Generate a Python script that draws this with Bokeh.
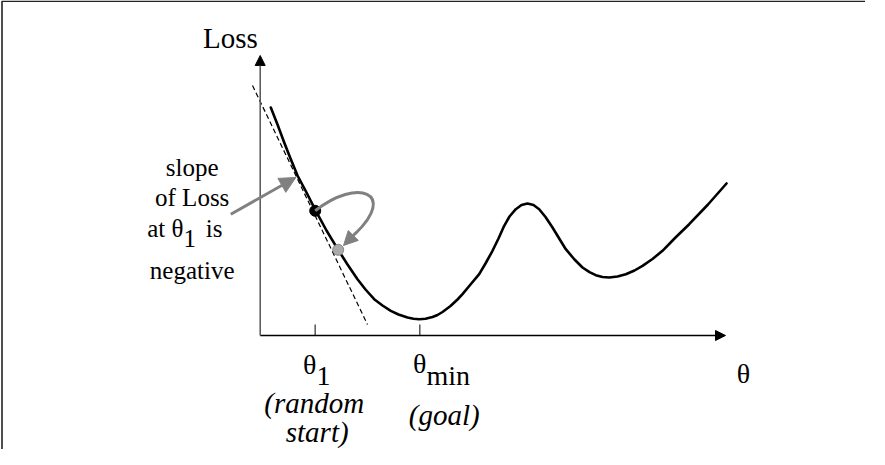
from bokeh.plotting import figure
from bokeh.models import Range1d, Arrow, NormalHead
from bokeh.embed import file_html
from bokeh.resources import INLINE
from bokeh.core.properties import value

# ---- data (arbitrary units; origin where the two axes meet) ----
theta = [1.06, 1.73, 2.40, 3.03, 3.73, 4.63, 5.56, 6.63, 7.80, 8.73, 9.73,
         10.53, 11.40, 12.23, 13.06, 13.83, 14.73, 15.33, 15.90, 16.53, 17.23,
         17.73, 18.23, 19.03, 19.73, 20.23, 21.03, 21.90, 22.53, 23.23, 23.83,
         24.40, 24.93, 25.56, 26.13, 26.73, 27.33, 27.90, 28.53, 29.23, 29.93,
         30.56, 31.43, 32.23, 32.93, 33.56, 34.23, 34.90, 35.73, 36.56, 37.43,
         38.23, 39.23, 40.23, 41.53, 42.90, 44.78, 46.63]
loss = [22.80, 21.10, 19.30, 17.70, 16.00, 14.30, 12.47, 10.50, 8.57, 7.10, 5.63,
        4.60, 3.63, 3.00, 2.47, 2.10, 1.80, 1.67, 1.63, 1.67, 1.85,
        2.05, 2.35, 2.95, 3.60, 4.13, 5.10, 6.13, 7.20, 8.47, 9.70,
        10.97, 11.90, 12.63, 13.05, 13.20, 13.05, 12.63, 11.85, 10.80, 9.65,
        8.63, 7.60, 6.80, 6.33, 6.03, 5.85, 5.80, 5.90, 6.13, 6.50,
        6.97, 7.65, 8.47, 9.80, 11.13, 13.10, 15.20]

theta_1 = 5.5          # random start
loss_1 = 12.47
theta_2 = 7.8          # next step
loss_2 = 8.57
theta_min = 15.96      # goal

tangent_theta = [-0.77, 10.73]
tangent_loss = [25.0, 1.1]

x_axis_end = 46.53
y_axis_end = 28.0
tick_len = 1.1

GRAY = "#808080"
FONT = value("Liberation Serif")

X0, X1 = -25.97, 60.53
Y0, Y1 = -11.4, 33.5

p = figure(width=865, height=449, output_backend="svg", toolbar_location=None,
           x_range=Range1d(X0, X1), y_range=Range1d(Y0, Y1),
           min_border=0)
p.axis.visible = False
p.grid.visible = False
p.outline_line_color = None
p.background_fill_color = "white"

# frame (left and top edge)
p.line(x=[-25.82, -25.82, X1], y=[Y0, 33.42, 33.42], line_color="#222222", line_width=1.6)

# axes
p.add_layout(Arrow(x_start=0, y_start=0, x_end=x_axis_end, y_end=0,
                   line_color="black", line_width=1.5,
                   end=NormalHead(size=10, fill_color="black", line_color="black")))
p.add_layout(Arrow(x_start=0, y_start=0, x_end=0, y_end=y_axis_end,
                   line_color="#555555", line_width=1.5,
                   end=NormalHead(size=10, fill_color="black", line_color="black")))
p.segment(x0=[theta_1, theta_min], y0=[0, 0], x1=[theta_1, theta_min], y1=[tick_len, tick_len],
          line_color="#555555", line_width=1.5)

# tangent
p.line(x=tangent_theta, y=tangent_loss, line_color="black", line_width=1.2, line_dash="5 3")

# loss curve
p.line(x=theta, y=loss, line_color="black", line_width=2.6, line_join="round", line_cap="round")

# points
p.scatter(x=[theta_1], y=[loss_1], size=11, fill_color="black", line_color="black")
p.scatter(x=[theta_2], y=[loss_2], size=11, fill_color="#aaaaaa", line_color="#888888", line_width=1)

# curved step arrow
p.bezier(x0=[theta_1], y0=[loss_1], x1=[9.53], y1=[10.2], cx0=[9.73], cy0=[15.8],
         cx1=[13.73], cy1=[14.3], line_color=GRAY, line_width=3)
p.add_layout(Arrow(x_start=9.6, y_start=10.3, x_end=8.33, y_end=9.0, line_color=GRAY, line_width=3,
                   end=NormalHead(size=14, fill_color=GRAY, line_color=GRAY)))

# slope annotation arrow
p.add_layout(Arrow(x_start=-2.94, y_start=12.13, x_end=3.56, y_end=15.8, line_color=GRAY, line_width=3,
                   end=NormalHead(size=16, fill_color=GRAY, line_color=GRAY)))

def txt(x, y, s, size="28px", align="center", style="normal"):
    p.text(x=[x], y=[y], text=[s], text_font=FONT, text_font_size=size,
           text_align=align, text_baseline="alphabetic", text_color="black",
           text_font_style=style)

# axis labels
txt(-2.97, 29.8, "Loss", size="29px")
txt(48.33, -3.8, "θ")
txt(5.63, -2.87, "θ", align="right")
txt(5.63, -4.0, "1", align="left")
txt(16.63, -2.8, "θ", align="right")
txt(16.63, -3.97, "min", align="left")
txt(5.4, -6.7, "(random", size="29px", style="italic")
txt(5.7, -9.6, "start)", size="29px", style="italic")
txt(18.4, -7.9, "(goal)", size="29px", style="italic")

# left annotation
txt(-6.8, 16.8, "slope", size="25px")
txt(-6.8, 13.8, "of Loss", size="25px")
txt(-7.67, 10.7, "at θ", size="25px", align="right")
txt(-7.67, 9.7, "1", size="25px", align="left")
txt(-5.44, 10.7, "is", size="25px", align="left")
txt(-6.8, 6.5, "negative", size="25px")

open("out.html", "w").write(file_html(p, INLINE))
